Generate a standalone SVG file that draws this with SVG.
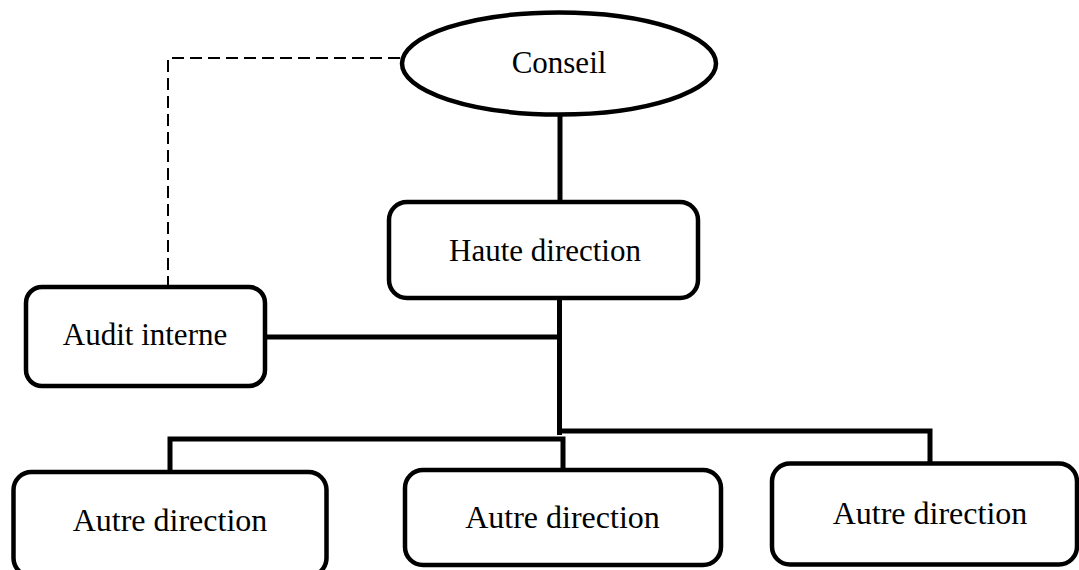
<svg xmlns="http://www.w3.org/2000/svg" width="1079" height="570" viewBox="0 0 1079 570">
  <style>
    .box { fill: #ffffff; stroke: #000000; stroke-width: 4.5; }
    .lbl { font-family: "Liberation Serif", "Times New Roman", serif; font-size: 31px; fill: #000000; text-anchor: middle; }
    .wire { fill: none; stroke: #000000; stroke-width: 5; stroke-linecap: butt; stroke-linejoin: miter; }
    .dash { fill: none; stroke: #000000; stroke-width: 2; stroke-dasharray: 12 6; }
  </style>
  <rect width="1079" height="570" fill="#ffffff"/>

  <g id="connectors">
    <path class="dash" d="M400,58 H168 V286"/>
    <path class="wire" d="M560,115 V202"/>
    <path class="wire" d="M559.5,298 V435"/>
    <path class="wire" d="M265,337 H560"/>
    <path class="wire" d="M557,431 H930 V463"/>
    <path class="wire" d="M170,472 V439 H563 V470"/>
  </g>

  <g id="conseil">
    <ellipse class="box" cx="559" cy="63.5" rx="157" ry="51"/>
    <text class="lbl" x="559" y="73">Conseil</text>
  </g>

  <g id="haute-direction">
    <rect class="box" x="389" y="202" width="309" height="96" rx="18"/>
    <text class="lbl" x="545" y="261">Haute direction</text>
  </g>

  <g id="audit-interne">
    <rect class="box" x="26" y="287" width="239" height="99" rx="16"/>
    <text class="lbl" x="145" y="345">Audit interne</text>
  </g>

  <g id="autre-direction-1">
    <rect class="box" x="13.5" y="472" width="313" height="104" rx="18"/>
    <text class="lbl" x="170" y="531" style="font-size:32px">Autre direction</text>
  </g>

  <g id="autre-direction-2">
    <rect class="box" x="405" y="470" width="316" height="95" rx="18"/>
    <text class="lbl" x="562.5" y="528" style="font-size:32px">Autre direction</text>
  </g>

  <g id="autre-direction-3">
    <rect class="box" x="772" y="463.5" width="305" height="101" rx="18"/>
    <text class="lbl" x="930" y="524" style="font-size:32px">Autre direction</text>
  </g>
</svg>
